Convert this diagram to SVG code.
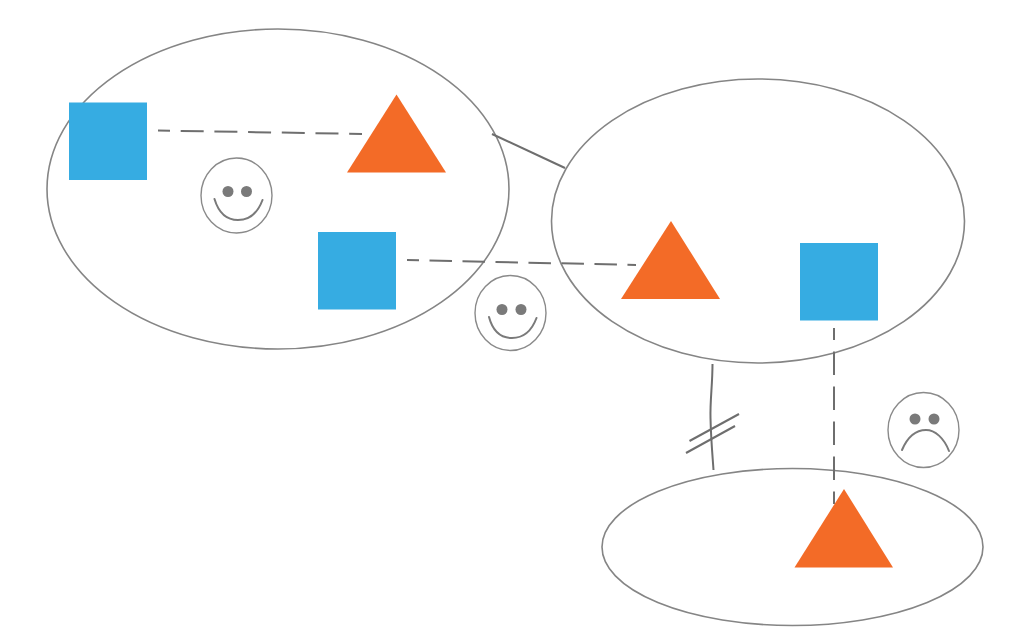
<svg xmlns="http://www.w3.org/2000/svg" width="1024" height="640" viewBox="0 0 1024 640">
<style>
.ell{fill:none;stroke:#858585;stroke-width:1.6}
.sq{fill:#36ace2}
.tri{fill:#f36b27}
.face{fill:none;stroke:#8a8a8a;stroke-width:1.4}
.eye{fill:#7a7a7a}
.mouth{fill:none;stroke:#7a7a7a;stroke-width:2;stroke-linecap:round}
.line{fill:none;stroke:#6e6e6e;stroke-width:2}
.dash{fill:none;stroke:#6e6e6e;stroke-width:2}
</style>
<rect width="1024" height="640" fill="#fff"/>
<g id="cluster-a"><ellipse class="ell" cx="278" cy="189" rx="231" ry="160"/></g>
<g id="cluster-b"><ellipse class="ell" cx="758" cy="221" rx="206.500" ry="142"/></g>
<g id="cluster-c"><ellipse class="ell" cx="792.500" cy="547" rx="190.500" ry="78.500"/></g>
<g id="connectors">
<path class="line" d="M492 134L565 168"/>
<path class="dash" stroke-dasharray="23 10.700" stroke-dashoffset="11" d="M158 130.500L362 134"/>
<path class="dash" stroke-dasharray="22.500 10.500" stroke-dashoffset="10.500" d="M407 260L636 265"/>
<path class="dash" stroke-dasharray="23.500 11.500" stroke-dashoffset="11.500" d="M834 328V504"/>
<path class="line" d="M712.500 364C712.500 385 710 400 710.500 418C711 440 712.500 455 713.500 470"/>
<path class="line" d="M689.500 441L739 414"/>
<path class="line" d="M686 453L735 426"/>
</g>
<g id="square-1"><rect class="sq" x="69" y="102.500" width="78" height="77.500"/></g>
<g id="triangle-1"><path class="tri" d="M396.500 94.500L446 172.500H347Z"/></g>
<g id="square-2"><rect class="sq" x="318" y="232" width="78" height="77.500"/></g>
<g id="triangle-2"><path class="tri" d="M671 221L720 299H621Z"/></g>
<g id="square-3"><rect class="sq" x="800" y="243" width="78" height="77.500"/></g>
<g id="triangle-3"><path class="tri" d="M844 489L893 567.500H794.500Z"/></g>
<g id="face-1">
<ellipse class="face" cx="236.500" cy="195.500" rx="35.500" ry="37.500"/>
<circle class="eye" cx="228" cy="191.500" r="5.500"/><circle class="eye" cx="246.500" cy="191.500" r="5.500"/>
<path class="mouth" d="M214.500 199C219 214 228 220 238 220C250 220 258 212 262.500 200"/>
</g>
<g id="face-2">
<ellipse class="face" cx="510.500" cy="313" rx="35.500" ry="37.500"/>
<circle class="eye" cx="502" cy="309.500" r="5.500"/><circle class="eye" cx="521" cy="309.500" r="5.500"/>
<path class="mouth" d="M489 317C493 332 502 338 512 338C524 338 532 330 536.500 318"/>
</g>
<g id="face-3">
<ellipse class="face" cx="923.500" cy="430" rx="35.500" ry="37.500"/>
<circle class="eye" cx="915" cy="419" r="5.500"/><circle class="eye" cx="934" cy="419" r="5.500"/>
<path class="mouth" d="M902 450C908 436 917 430 926 430C935 430 944 438 949 451"/>
</g>
</svg>
